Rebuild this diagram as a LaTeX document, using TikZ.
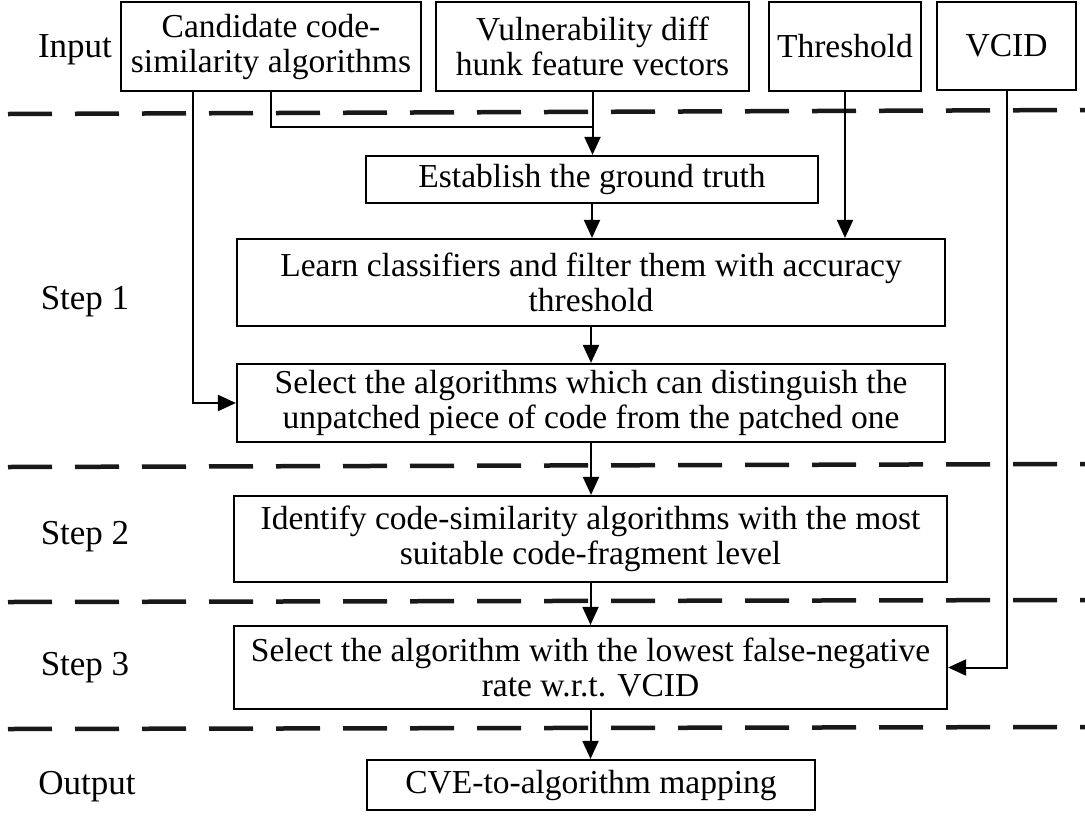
\documentclass[tikz,border=0pt]{standalone}
\usepackage{fontspec}
\setmainfont{Liberation Serif}
\usetikzlibrary{arrows.meta}
\begin{document}
\begin{tikzpicture}[x=1pt,y=-1pt,
  box/.style={draw=black, line width=2.2pt, inner sep=0pt, align=center,
    font=\fontsize{33.5}{35}\selectfont},
  lbl/.style={inner sep=0pt, font=\fontsize{35}{36}\selectfont},
  conn/.style={draw=black, line width=2pt},
  arr/.style={conn, -{Triangle[length=18pt,width=16pt]}},
  sep/.style={draw=black!90, line width=4.5pt, dash pattern=on 44pt off 23pt}]
\useasboundingbox (0,0) rectangle (1085,815);
% dashed separators
\draw[sep] (8,114) -- (1085,110);
\draw[sep] (8,467) -- (1085,464);
\draw[sep] (8,602) -- (1085,600);
\draw[sep] (8,729) -- (1085,727);
% labels
\node[lbl] (linput) at (75,50) {Input};
\node[lbl] (lstep1) at (85,302) {Step 1};
\node[lbl] (lstep2) at (85,537) {Step 2};
\node[lbl] (lstep3) at (85,668) {Step 3};
\node[lbl] (lout) at (87,787) {Output};
% input boxes
\node[box, minimum width=300pt, minimum height=89pt] (c1) at (271,46.5) {Candidate code-\\similarity algorithms};
\node[box, minimum width=313pt, minimum height=89pt] (c2) at (592.5,46.5) {Vulnerability diff\\hunk feature vectors};
\node[box, minimum width=152pt, minimum height=89pt] (thr) at (845,46.5) {Threshold};
\node[box, minimum width=139pt, minimum height=88pt] (vcid) at (1006.5,46) {VCID};
% process boxes
\node[box, minimum width=452pt, minimum height=47pt] (est) at (592,179.5) {Establish the ground truth};
\node[box, minimum width=708pt, minimum height=87pt] (learn) at (591,282.5) {Learn classifiers and filter them with accuracy\\threshold};
\node[box, minimum width=708pt, minimum height=78pt] (sel) at (591,403) {Select the algorithms which can distinguish the\\unpatched piece of code from the patched one};
\node[box, minimum width=713pt, minimum height=86pt] (iden) at (590.5,539) {Identify code-similarity algorithms with the most\\suitable code-fragment level};
\node[box, minimum width=713pt, minimum height=83pt] (s3) at (590.5,667.5) {Select the algorithm with the lowest false-negative\\rate w.r.t. VCID};
\node[box, minimum width=448pt, minimum height=50pt] (out) at (591,785) {CVE-to-algorithm mapping};
% helper coordinates
\coordinate (lx) at (193,0);
\coordinate (jn) at (592.5,127);
% connectors
\draw[arr] (c2.south) -- (c2.south |- est.north);
\draw[conn] (c1.south) |- (jn);
\draw[arr] (c1.south -| lx) |- (sel.west);
\draw[arr] (thr.south) -- (thr.south |- learn.north);
\draw[arr] (vcid.south) |- (s3.east);
\draw[arr] (est.south) -- (est.south |- learn.north);
\draw[arr] (learn.south) -- (learn.south |- sel.north);
\draw[arr] (sel.south) -- (sel.south |- iden.north);
\draw[arr] (iden.south) -- (iden.south |- s3.north);
\draw[arr] (s3.south) -- (s3.south |- out.north);
\end{tikzpicture}
\end{document}
